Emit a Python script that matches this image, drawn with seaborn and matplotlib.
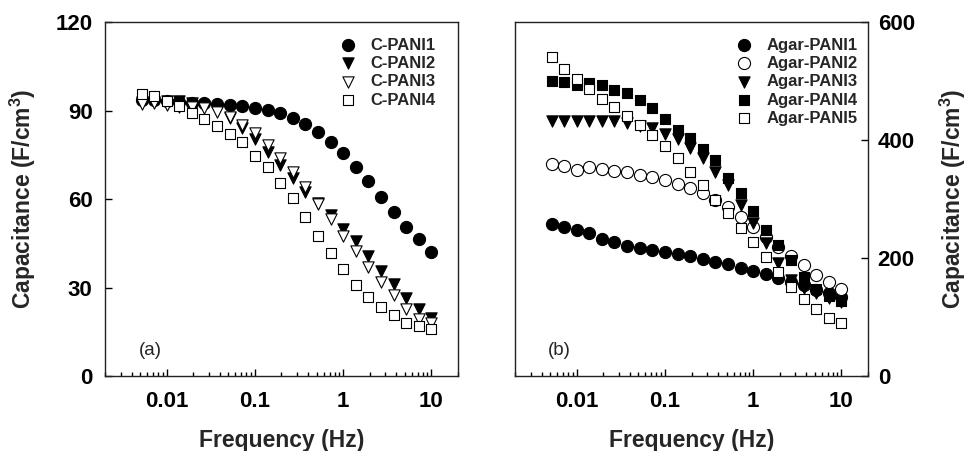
import numpy as np
import pandas as pd
import matplotlib
matplotlib.use('Agg')
import matplotlib.pyplot as plt
import seaborn as sns
from matplotlib.ticker import LogLocator, FixedLocator, NullFormatter

# frequencies (Hz), 7 points per decade
freq = [0.0052, 0.0072, 0.01, 0.0139, 0.0193, 0.0268, 0.0373, 0.0518, 0.072, 0.1,
        0.139, 0.193, 0.268, 0.373, 0.518, 0.72, 1.0, 1.39, 1.93, 2.68, 3.73, 5.18, 7.2, 10.0]

# panel (a)
c_pani1 = [93.6, 93.4, 93.2, 93.0, 92.7, 92.4, 92.2, 92.0, 91.5, 91.0, 90.2, 89.0,
           87.6, 85.3, 82.6, 79.3, 75.5, 71.0, 66.0, 60.8, 55.7, 50.6, 46.3, 42.1]
c_pani2 = [93.0, 93.0, 93.2, 93.3, 92.6, 91.6, 90.2, 87.3, 84.0, 80.3, 76.0, 71.5,
           67.0, 62.5, 58.5, 54.6, 50.0, 45.9, 40.7, 35.7, 31.2, 26.3, 22.6, 19.6]
c_pani3 = [92.2, 92.4, 91.9, 91.3, 91.1, 90.7, 89.4, 87.7, 85.1, 82.3, 78.3, 73.8,
           69.0, 64.2, 58.2, 53.2, 47.5, 42.4, 37.1, 32.0, 27.5, 22.6, 19.2, 17.9]
c_pani4 = [95.6, 95.0, 93.3, 91.5, 89.0, 87.1, 84.8, 82.0, 79.4, 74.6, 71.0, 65.3,
           60.2, 54.0, 47.5, 41.6, 36.2, 30.8, 26.9, 23.5, 20.7, 18.1, 16.8, 15.9]

# panel (b)
agar_pani1 = [257.6, 252.5, 247, 241.8, 232.2, 226.6, 221, 216.4, 213.6, 209.6, 206.2, 203.9,
              199, 194, 189.3, 183.6, 178.5, 173.5, 166, 160, 154, 146, 140, 134]
agar_pani2 = [360, 356, 349, 355, 351, 347.5, 345, 341, 338, 332, 325, 318,
              310, 298, 286, 270, 253, 236, 218, 203, 188, 171, 160, 147]
agar_pani3 = [433, 433, 433, 433, 433, 432, 428, 424, 420, 411, 401, 386,
              369, 345, 324, 290, 259, 225, 192, 163, 150, 140, 132, 126]
agar_pani4 = [500, 498, 493, 496, 493, 485, 479, 468, 455, 435, 417, 403,
              384, 366, 335, 310, 280, 248, 222, 196, 168, 147, 136, 127]
agar_pani5 = [541, 521, 504, 486, 470, 456, 441, 425, 408, 389, 369, 345,
              323, 299, 276, 251, 227, 201, 176, 151, 131, 113, 99, 90]

labels_a = ['C-PANI1', 'C-PANI2', 'C-PANI3', 'C-PANI4']
labels_b = ['Agar-PANI1', 'Agar-PANI2', 'Agar-PANI3', 'Agar-PANI4', 'Agar-PANI5']

sns.set_theme(style='ticks')
plt.rcParams['font.family'] = ['Liberation Sans', 'DejaVu Sans']
plt.rcParams['mathtext.fontset'] = 'custom'
plt.rcParams['mathtext.rm'] = 'Liberation Sans'
plt.rcParams['mathtext.bf'] = 'Liberation Sans:bold'
plt.rcParams['mathtext.default'] = 'bf'

# marker size (pt^2)
sty = {'o': 76, 'v': 66, 's': 52}


def draw(ax, series, labels, marks, leg_x):
    for vals, lab, (m, filled) in zip(series, labels, marks):
        df = pd.DataFrame({'Frequency': freq, 'C': vals})
        sns.scatterplot(data=df, x='Frequency', y='C', ax=ax, marker=m, s=sty[m],
                        color='black' if filled else 'white', edgecolor='black',
                        linewidth=0.8, label=lab, zorder=3)
    ax.set_xscale('log')
    ax.set_xlim(0.002, 20)
    ax.xaxis.set_major_locator(FixedLocator([0.01, 0.1, 1, 10]))
    ax.xaxis.set_minor_locator(LogLocator(base=10, subs=np.arange(2, 10)))
    ax.xaxis.set_minor_formatter(NullFormatter())
    ax.set_xticklabels(['0.01', '0.1', '1', '10'])
    ax.tick_params(which='both', direction='in', labelsize=16, width=1, colors='black')
    ax.tick_params(which='major', length=5)
    ax.tick_params(which='minor', length=3)
    ax.tick_params(axis='x', pad=11)
    for t in ax.get_xticklabels() + ax.get_yticklabels():
        t.set_fontweight('bold')
    for sp in ax.spines.values():
        sp.set_visible(True)
        sp.set_linewidth(1.0)
        sp.set_color('#222222')
    ax.set_xlabel('Frequency (Hz)', fontsize=16.5, fontweight='bold')
    ax.set_ylabel('Capacitance (F/cm$^3$)', fontsize=16.5, fontweight='bold')
    ax.xaxis.set_label_coords(0.5, -0.15)
    ax.legend(loc='upper right', bbox_to_anchor=(leg_x, 0.975), frameon=False,
              prop={'size': 12, 'weight': 'bold'}, handletextpad=0.75,
              handlelength=1.2, labelspacing=0.2, borderaxespad=0.0)


fig = plt.figure(figsize=(9.67, 4.51), dpi=100)
ax1 = fig.add_axes([0.1086, 0.1663, 0.365, 0.7849])
ax2 = fig.add_axes([0.5326, 0.1663, 0.365, 0.7849])

draw(ax1, [c_pani1, c_pani2, c_pani3, c_pani4], labels_a,
     [('o', True), ('v', True), ('v', False), ('s', False)], 0.956)
ax1.set_ylim(0, 120)
ax1.set_yticks([0, 30, 60, 90, 120])
ax1.set_yticklabels(['0', '30', '60', '90', '120'], fontweight='bold')
ax1.tick_params(axis='y', pad=9)
ax1.yaxis.set_label_coords(-0.19, 0.5)
ax1.text(0.096, 0.073, '(a)', transform=ax1.transAxes, fontsize=13.5, va='center', ha='left')

draw(ax2, [agar_pani1, agar_pani2, agar_pani3, agar_pani4, agar_pani5], labels_b,
     [('o', True), ('o', False), ('v', True), ('s', True), ('s', False)], 0.99)
ax2.set_ylim(0, 600)
ax2.set_yticks([0, 200, 400, 600])
ax2.yaxis.tick_right()
ax2.yaxis.set_label_position('right')
ax2.set_yticklabels(['0', '200', '400', '600'], fontweight='bold')
ax2.tick_params(axis='y', pad=7)
ax2.yaxis.set_label_coords(1.198, 0.5)
ax2.text(0.093, 0.073, '(b)', transform=ax2.transAxes, fontsize=13.5, va='center', ha='left')

fig.savefig('out.png', dpi=100)
